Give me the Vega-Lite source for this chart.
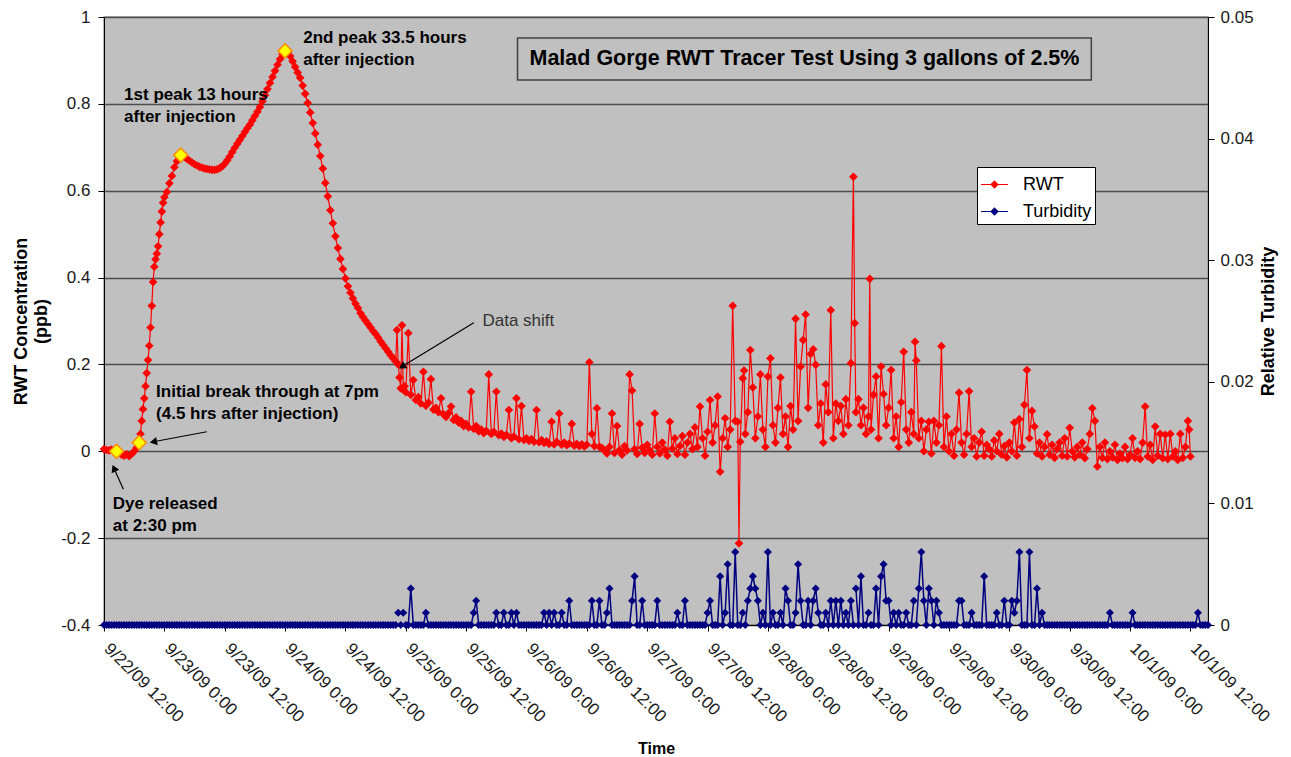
{
"$schema":"https://vega.github.io/schema/vega-lite/v6.json",
"width":1104,"height":608,
"autosize":{"type":"none"},
"padding":{"left":104,"top":17,"right":83,"bottom":132},
"background":"white",
"config":{
 "font":"Liberation Sans",
 "view":{"fill":"#C0C0C0","stroke":"#9a9a9a","strokeWidth":1.5},
 "axis":{"labelFont":"Liberation Sans","titleFont":"Liberation Sans","labelColor":"#1a1a1a","titleColor":"#000","domainColor":"#000","tickColor":"#000","labelFontSize":17,"titleFontSize":17,"titleFontWeight":"bold","tickSize":6}
},
"datasets":{
"m":[
{"t":"2009-09-22T12:00","r":0.005,"u":0},{"t":"2009-09-22T12:30","r":0.003,"u":0},{"t":"2009-09-22T13:00","r":0.002,"u":0},{"t":"2009-09-22T13:30","r":0.004,"u":0},{"t":"2009-09-22T14:00","r":0.001,"u":0},{"t":"2009-09-22T14:30","r":0,"u":0},{"t":"2009-09-22T15:00","r":-0.004,"u":0},{"t":"2009-09-22T15:30","r":-0.008,"u":0},{"t":"2009-09-22T16:00","r":-0.01,"u":0},{"t":"2009-09-22T16:30","r":-0.007,"u":0},{"t":"2009-09-22T17:00","r":-0.011,"u":0},{"t":"2009-09-22T17:30","r":-0.006,"u":0},{"t":"2009-09-22T18:00","r":0,"u":0},{"t":"2009-09-22T18:30","r":0.008,"u":0},{"t":"2009-09-22T19:00","r":0.02,"u":0},{"t":"2009-09-22T19:15","r":0.04},{"t":"2009-09-22T19:30","r":0.07,"u":0},{"t":"2009-09-22T19:45","r":0.097},{"t":"2009-09-22T20:00","r":0.122,"u":0},{"t":"2009-09-22T20:15","r":0.15},{"t":"2009-09-22T20:30","r":0.18,"u":0},{"t":"2009-09-22T20:45","r":0.21},{"t":"2009-09-22T21:00","r":0.243,"u":0},{"t":"2009-09-22T21:15","r":0.285},{"t":"2009-09-22T21:30","r":0.335,"u":0},{"t":"2009-09-22T21:45","r":0.39},{"t":"2009-09-22T22:00","r":0.425,"u":0},{"t":"2009-09-22T22:15","r":0.442},{"t":"2009-09-22T22:30","r":0.455,"u":0},{"t":"2009-09-22T22:45","r":0.472},{"t":"2009-09-22T23:00","r":0.5,"u":0},{"t":"2009-09-22T23:15","r":0.527},{"t":"2009-09-22T23:30","r":0.552,"u":0},{"t":"2009-09-22T23:45","r":0.572},
{"t":"2009-09-23T00:00","r":0.585,"u":0},{"t":"2009-09-23T00:30","r":0.597,"u":0},{"t":"2009-09-23T01:00","r":0.617,"u":0},{"t":"2009-09-23T01:30","r":0.634,"u":0},{"t":"2009-09-23T02:00","r":0.654,"u":0},{"t":"2009-09-23T02:30","r":0.668,"u":0},{"t":"2009-09-23T03:00","r":0.677,"u":0},{"t":"2009-09-23T03:30","r":0.682,"u":0},{"t":"2009-09-23T04:00","r":0.678,"u":0},{"t":"2009-09-23T04:30","r":0.673,"u":0},{"t":"2009-09-23T05:00","r":0.669,"u":0},{"t":"2009-09-23T05:30","r":0.665,"u":0},{"t":"2009-09-23T06:00","r":0.661,"u":0},{"t":"2009-09-23T06:30","r":0.658,"u":0},{"t":"2009-09-23T07:00","r":0.655,"u":0},{"t":"2009-09-23T07:30","r":0.653,"u":0},{"t":"2009-09-23T08:00","r":0.651,"u":0},{"t":"2009-09-23T08:30","r":0.65,"u":0},{"t":"2009-09-23T09:00","r":0.649,"u":0},{"t":"2009-09-23T09:30","r":0.648,"u":0},{"t":"2009-09-23T10:00","r":0.648,"u":0},{"t":"2009-09-23T10:30","r":0.649,"u":0},{"t":"2009-09-23T11:00","r":0.652,"u":0},{"t":"2009-09-23T11:30","r":0.656,"u":0},{"t":"2009-09-23T12:00","r":0.662,"u":0},{"t":"2009-09-23T12:30","r":0.67,"u":0},{"t":"2009-09-23T13:00","r":0.679,"u":0},{"t":"2009-09-23T13:30","r":0.689,"u":0},{"t":"2009-09-23T14:00","r":0.699,"u":0},{"t":"2009-09-23T14:30","r":0.708,"u":0},{"t":"2009-09-23T15:00","r":0.717,"u":0},{"t":"2009-09-23T15:30","r":0.726,"u":0},{"t":"2009-09-23T16:00","r":0.735,"u":0},{"t":"2009-09-23T16:30","r":0.744,"u":0},{"t":"2009-09-23T17:00","r":0.752,"u":0},{"t":"2009-09-23T17:30","r":0.762,"u":0},{"t":"2009-09-23T18:00","r":0.772,"u":0},{"t":"2009-09-23T18:30","r":0.782,"u":0},{"t":"2009-09-23T19:00","r":0.793,"u":0},{"t":"2009-09-23T19:30","r":0.806,"u":0},{"t":"2009-09-23T20:00","r":0.82,"u":0},{"t":"2009-09-23T20:30","r":0.834,"u":0},{"t":"2009-09-23T21:00","r":0.848,"u":0},{"t":"2009-09-23T21:30","r":0.862,"u":0},{"t":"2009-09-23T22:00","r":0.876,"u":0},{"t":"2009-09-23T22:30","r":0.89,"u":0},{"t":"2009-09-23T23:00","r":0.903,"u":0},{"t":"2009-09-23T23:30","r":0.914,"u":0},
{"t":"2009-09-24T00:00","r":0.922,"u":0},{"t":"2009-09-24T00:30","r":0.919,"u":0},{"t":"2009-09-24T01:00","r":0.91,"u":0},{"t":"2009-09-24T01:30","r":0.898,"u":0},{"t":"2009-09-24T02:00","r":0.885,"u":0},{"t":"2009-09-24T02:30","r":0.872,"u":0},{"t":"2009-09-24T03:00","r":0.86,"u":0},{"t":"2009-09-24T03:30","r":0.842,"u":0},{"t":"2009-09-24T04:00","r":0.823,"u":0},{"t":"2009-09-24T04:30","r":0.802,"u":0},{"t":"2009-09-24T05:00","r":0.78,"u":0},{"t":"2009-09-24T05:30","r":0.756,"u":0},{"t":"2009-09-24T06:00","r":0.732,"u":0},{"t":"2009-09-24T06:30","r":0.706,"u":0},{"t":"2009-09-24T07:00","r":0.68,"u":0},{"t":"2009-09-24T07:30","r":0.651,"u":0},{"t":"2009-09-24T08:00","r":0.618,"u":0},{"t":"2009-09-24T08:30","r":0.587,"u":0},{"t":"2009-09-24T09:00","r":0.555,"u":0},{"t":"2009-09-24T09:30","r":0.525,"u":0},{"t":"2009-09-24T10:00","r":0.495,"u":0},{"t":"2009-09-24T10:30","r":0.468,"u":0},{"t":"2009-09-24T11:00","r":0.443,"u":0},{"t":"2009-09-24T11:30","r":0.42,"u":0},{"t":"2009-09-24T12:00","r":0.398,"u":0},{"t":"2009-09-24T12:30","r":0.38,"u":0},{"t":"2009-09-24T13:00","r":0.365,"u":0},{"t":"2009-09-24T13:30","r":0.352,"u":0},{"t":"2009-09-24T14:00","r":0.34,"u":0},{"t":"2009-09-24T14:30","r":0.33,"u":0},{"t":"2009-09-24T15:00","r":0.318,"u":0},{"t":"2009-09-24T15:30","r":0.309,"u":0},{"t":"2009-09-24T16:00","r":0.301,"u":0},{"t":"2009-09-24T16:30","r":0.293,"u":0},{"t":"2009-09-24T17:00","r":0.285,"u":0},{"t":"2009-09-24T17:30","r":0.277,"u":0},{"t":"2009-09-24T18:00","r":0.27,"u":0},{"t":"2009-09-24T18:30","r":0.262,"u":0},{"t":"2009-09-24T19:00","r":0.253,"u":0},{"t":"2009-09-24T19:30","r":0.245,"u":0},{"t":"2009-09-24T20:00","r":0.237,"u":0},{"t":"2009-09-24T20:30","r":0.229,"u":0},{"t":"2009-09-24T21:00","r":0.221,"u":0},{"t":"2009-09-24T21:30","r":0.214,"u":0},{"t":"2009-09-24T22:00","r":0.207,"u":0},{"t":"2009-09-24T22:15","r":0.279},{"t":"2009-09-24T22:30","r":0.2,"u":0.001},{"t":"2009-09-24T22:45","r":0.17},{"t":"2009-09-24T23:00","r":0.145,"u":0},{"t":"2009-09-24T23:15","r":0.29},{"t":"2009-09-24T23:30","r":0.142,"u":0.001},{"t":"2009-09-24T23:45","r":0.15},
{"t":"2009-09-25T00:00","r":0.136,"u":0},{"t":"2009-09-25T00:30","r":0.272,"u":0},{"t":"2009-09-25T01:00","r":0.13,"u":0.003},{"t":"2009-09-25T01:30","r":0.164,"u":0},{"t":"2009-09-25T02:00","r":0.118,"u":0},{"t":"2009-09-25T02:30","r":0.125,"u":0},{"t":"2009-09-25T03:00","r":0.11,"u":0},{"t":"2009-09-25T03:30","r":0.183,"u":0},{"t":"2009-09-25T04:00","r":0.105,"u":0.001},{"t":"2009-09-25T04:30","r":0.112,"u":0},{"t":"2009-09-25T05:00","r":0.166,"u":0},{"t":"2009-09-25T05:30","r":0.096,"u":0},{"t":"2009-09-25T06:00","r":0.1,"u":0},{"t":"2009-09-25T06:30","r":0.09,"u":0},{"t":"2009-09-25T07:00","r":0.122,"u":0},{"t":"2009-09-25T07:30","r":0.085,"u":0},{"t":"2009-09-25T08:00","r":0.079,"u":0},{"t":"2009-09-25T08:30","r":0.088,"u":0},{"t":"2009-09-25T09:00","r":0.103,"u":0},{"t":"2009-09-25T09:30","r":0.072,"u":0},{"t":"2009-09-25T10:00","r":0.078,"u":0},{"t":"2009-09-25T10:30","r":0.066,"u":0},{"t":"2009-09-25T11:00","r":0.07,"u":0},{"t":"2009-09-25T11:30","r":0.058,"u":0},{"t":"2009-09-25T12:00","r":0.063,"u":0},{"t":"2009-09-25T12:30","r":0.055,"u":0},{"t":"2009-09-25T13:00","r":0.137,"u":0},{"t":"2009-09-25T13:30","r":0.052,"u":0.001},{"t":"2009-09-25T14:00","r":0.058,"u":0.002},{"t":"2009-09-25T14:30","r":0.046,"u":0},{"t":"2009-09-25T15:00","r":0.05,"u":0},{"t":"2009-09-25T15:30","r":0.042,"u":0},{"t":"2009-09-25T16:00","r":0.047,"u":0},{"t":"2009-09-25T16:30","r":0.177,"u":0},{"t":"2009-09-25T17:00","r":0.04,"u":0},{"t":"2009-09-25T17:30","r":0.045,"u":0},{"t":"2009-09-25T18:00","r":0.137,"u":0.001},{"t":"2009-09-25T18:30","r":0.037,"u":0},{"t":"2009-09-25T19:00","r":0.041,"u":0},{"t":"2009-09-25T19:30","r":0.033,"u":0.001},{"t":"2009-09-25T20:00","r":0.038,"u":0},{"t":"2009-09-25T20:30","r":0.095,"u":0},{"t":"2009-09-25T21:00","r":0.03,"u":0.001},{"t":"2009-09-25T21:30","r":0.034,"u":0},{"t":"2009-09-25T22:00","r":0.122,"u":0.001},{"t":"2009-09-25T22:30","r":0.028,"u":0},{"t":"2009-09-25T23:00","r":0.104,"u":0},{"t":"2009-09-25T23:30","r":0.026,"u":0},
{"t":"2009-09-26T00:00","r":0.03,"u":0},{"t":"2009-09-26T00:30","r":0.024,"u":0},{"t":"2009-09-26T01:00","r":0.028,"u":0},{"t":"2009-09-26T01:30","r":0.022,"u":0},{"t":"2009-09-26T02:00","r":0.095,"u":0},{"t":"2009-09-26T02:30","r":0.021,"u":0},{"t":"2009-09-26T03:00","r":0.026,"u":0},{"t":"2009-09-26T03:30","r":0.019,"u":0.001},{"t":"2009-09-26T04:00","r":0.023,"u":0},{"t":"2009-09-26T04:30","r":0.017,"u":0.001},{"t":"2009-09-26T05:00","r":0.068,"u":0},{"t":"2009-09-26T05:30","r":0.016,"u":0.001},{"t":"2009-09-26T06:00","r":0.022,"u":0},{"t":"2009-09-26T06:30","r":0.087,"u":0},{"t":"2009-09-26T07:00","r":0.015,"u":0.001},{"t":"2009-09-26T07:30","r":0.02,"u":0},{"t":"2009-09-26T08:00","r":0.014,"u":0},{"t":"2009-09-26T08:30","r":0.018,"u":0.002},{"t":"2009-09-26T09:00","r":0.063,"u":0},{"t":"2009-09-26T09:30","r":0.013,"u":0},{"t":"2009-09-26T10:00","r":0.017,"u":0},{"t":"2009-09-26T10:30","r":0.012,"u":0},{"t":"2009-09-26T11:00","r":0.016,"u":0},{"t":"2009-09-26T11:30","r":0.011,"u":0},{"t":"2009-09-26T12:00","r":0.015,"u":0},{"t":"2009-09-26T12:30","r":0.205,"u":0},{"t":"2009-09-26T13:00","r":0.04,"u":0.002},{"t":"2009-09-26T13:30","r":0.012,"u":0},{"t":"2009-09-26T14:00","r":0.099,"u":0},{"t":"2009-09-26T14:30","r":0.01,"u":0.002},{"t":"2009-09-26T15:00","r":0.008,"u":0},{"t":"2009-09-26T15:30","r":0.002,"u":0},{"t":"2009-09-26T16:00","r":-0.005,"u":0.001},{"t":"2009-09-26T16:30","r":0.01,"u":0.003},{"t":"2009-09-26T17:00","r":0.087,"u":0},{"t":"2009-09-26T17:30","r":-0.004,"u":0},{"t":"2009-09-26T18:00","r":0.058,"u":0},{"t":"2009-09-26T18:30","r":0.003,"u":0},{"t":"2009-09-26T19:00","r":-0.008,"u":0},{"t":"2009-09-26T19:30","r":0.012,"u":0},{"t":"2009-09-26T20:00","r":0.002,"u":0},{"t":"2009-09-26T20:30","r":0.177,"u":0},{"t":"2009-09-26T21:00","r":0.14,"u":0.002},{"t":"2009-09-26T21:30","r":0.005,"u":0.004},{"t":"2009-09-26T22:00","r":-0.006,"u":0},{"t":"2009-09-26T22:30","r":0.063,"u":0},{"t":"2009-09-26T23:00","r":0.008,"u":0.002},{"t":"2009-09-26T23:30","r":-0.004,"u":0},
{"t":"2009-09-27T00:00","r":0.015,"u":0},{"t":"2009-09-27T00:30","r":0.002,"u":0},{"t":"2009-09-27T01:00","r":-0.008,"u":0},{"t":"2009-09-27T01:30","r":0.087,"u":0},{"t":"2009-09-27T02:00","r":0.01,"u":0.002},{"t":"2009-09-27T02:30","r":-0.005,"u":0},{"t":"2009-09-27T03:00","r":0.02,"u":0},{"t":"2009-09-27T03:30","r":0.004,"u":0},{"t":"2009-09-27T04:00","r":-0.01,"u":0},{"t":"2009-09-27T04:30","r":0.068,"u":0},{"t":"2009-09-27T05:00","r":0.006,"u":0},{"t":"2009-09-27T05:30","r":0.03,"u":0},{"t":"2009-09-27T06:00","r":-0.006,"u":0.001},{"t":"2009-09-27T06:30","r":0.012,"u":0},{"t":"2009-09-27T07:00","r":0.035,"u":0},{"t":"2009-09-27T07:30","r":-0.008,"u":0.002},{"t":"2009-09-27T08:00","r":0.02,"u":0},{"t":"2009-09-27T08:30","r":0.04,"u":0},{"t":"2009-09-27T09:00","r":0.005,"u":0},{"t":"2009-09-27T09:30","r":0.055,"u":0},{"t":"2009-09-27T10:00","r":0.01,"u":0},{"t":"2009-09-27T10:30","r":0.103,"u":0},{"t":"2009-09-27T11:00","r":0.03,"u":0},{"t":"2009-09-27T11:30","r":-0.01,"u":0},{"t":"2009-09-27T12:00","r":0.045,"u":0.001},{"t":"2009-09-27T12:30","r":0.118,"u":0.002},{"t":"2009-09-27T13:00","r":0.02,"u":0},{"t":"2009-09-27T13:30","r":0.06,"u":0},{"t":"2009-09-27T14:00","r":0.126,"u":0},{"t":"2009-09-27T14:30","r":-0.047,"u":0.004},{"t":"2009-09-27T15:00","r":0.03,"u":0},{"t":"2009-09-27T15:30","r":0.076,"u":0.001},{"t":"2009-09-27T16:00","r":0.01,"u":0.005},{"t":"2009-09-27T16:30","r":0.05,"u":0},{"t":"2009-09-27T17:00","r":0.335,"u":0},{"t":"2009-09-27T17:30","r":0.07,"u":0.006},{"t":"2009-09-27T18:00","r":0.068,"u":0},{"t":"2009-09-27T18:15","r":-0.212},{"t":"2009-09-27T18:30","r":0.022,"u":0},{"t":"2009-09-27T19:00","r":0.168,"u":0.001},{"t":"2009-09-27T19:15","r":0.186},{"t":"2009-09-27T19:30","r":0.04,"u":0},{"t":"2009-09-27T20:00","r":0.09,"u":0.002},{"t":"2009-09-27T20:30","r":0.233,"u":0.003},{"t":"2009-09-27T21:00","r":0.147,"u":0.004},{"t":"2009-09-27T21:30","r":0.03,"u":0.003},{"t":"2009-09-27T22:00","r":0.08,"u":0.002},{"t":"2009-09-27T22:30","r":0.177,"u":0},{"t":"2009-09-27T23:00","r":0.05,"u":0.001},{"t":"2009-09-27T23:30","r":0.01,"u":0},
{"t":"2009-09-28T00:00","r":0.172,"u":0.006},{"t":"2009-09-28T00:30","r":0.214,"u":0},{"t":"2009-09-28T01:00","r":0.06,"u":0.001},{"t":"2009-09-28T01:30","r":0.02,"u":0},{"t":"2009-09-28T02:00","r":0.1,"u":0},{"t":"2009-09-28T02:30","r":0.17,"u":0.001},{"t":"2009-09-28T03:00","r":0.04,"u":0},{"t":"2009-09-28T03:30","r":0.08,"u":0.003},{"t":"2009-09-28T04:00","r":0.01,"u":0.002},{"t":"2009-09-28T04:30","r":0.104,"u":0},{"t":"2009-09-28T05:00","r":0.05,"u":0},{"t":"2009-09-28T05:30","r":0.305,"u":0.001},{"t":"2009-09-28T06:00","r":0.07,"u":0.005},{"t":"2009-09-28T06:30","r":0.195,"u":0.002},{"t":"2009-09-28T07:00","r":0.256,"u":0},{"t":"2009-09-28T07:30","r":0.315,"u":0},{"t":"2009-09-28T08:00","r":0.1,"u":0.002},{"t":"2009-09-28T08:30","r":0.224,"u":0},{"t":"2009-09-28T09:00","r":0.235,"u":0.002},{"t":"2009-09-28T09:30","r":0.199,"u":0.003},{"t":"2009-09-28T10:00","r":0.06,"u":0.001},{"t":"2009-09-28T10:30","r":0.11,"u":0},{"t":"2009-09-28T11:00","r":0.02,"u":0},{"t":"2009-09-28T11:30","r":0.154,"u":0.001},{"t":"2009-09-28T12:00","r":0.09,"u":0},{"t":"2009-09-28T12:30","r":0.325,"u":0.002},{"t":"2009-09-28T13:00","r":0.03,"u":0},{"t":"2009-09-28T13:30","r":0.11,"u":0.002},{"t":"2009-09-28T14:00","r":0.07,"u":0},{"t":"2009-09-28T14:30","r":0.104,"u":0.002},{"t":"2009-09-28T15:00","r":0.04,"u":0},{"t":"2009-09-28T15:30","r":0.12,"u":0.001},{"t":"2009-09-28T16:00","r":0.06,"u":0},{"t":"2009-09-28T16:30","r":0.203,"u":0.002},{"t":"2009-09-28T17:00","r":0.632,"u":0},{"t":"2009-09-28T17:15","r":0.295},{"t":"2009-09-28T17:30","r":0.09,"u":0.003},{"t":"2009-09-28T18:00","r":0.12,"u":0},{"t":"2009-09-28T18:30","r":0.06,"u":0.004},{"t":"2009-09-28T19:00","r":0.1,"u":0},{"t":"2009-09-28T19:30","r":0.04,"u":0},{"t":"2009-09-28T20:00","r":0.08,"u":0.001},{"t":"2009-09-28T20:15","r":0.397},{"t":"2009-09-28T20:30","r":0.05,"u":0},{"t":"2009-09-28T21:00","r":0.13,"u":0},{"t":"2009-09-28T21:30","r":0.172,"u":0.003},{"t":"2009-09-28T22:00","r":0.03,"u":0},{"t":"2009-09-28T22:30","r":0.195,"u":0.004},{"t":"2009-09-28T23:00","r":0.132,"u":0.005},{"t":"2009-09-28T23:30","r":0.06,"u":0.002},
{"t":"2009-09-29T00:00","r":0.1,"u":0.002},{"t":"2009-09-29T00:30","r":0.187,"u":0},{"t":"2009-09-29T01:00","r":0.03,"u":0.001},{"t":"2009-09-29T01:30","r":0.08,"u":0},{"t":"2009-09-29T02:00","r":0.01,"u":0.001},{"t":"2009-09-29T02:30","r":0.113,"u":0},{"t":"2009-09-29T03:00","r":0.229,"u":0},{"t":"2009-09-29T03:30","r":0.05,"u":0.001},{"t":"2009-09-29T04:00","r":0.02,"u":0},{"t":"2009-09-29T04:30","r":0.09,"u":0},{"t":"2009-09-29T05:00","r":0.04,"u":0.002},{"t":"2009-09-29T05:15","r":0.252},{"t":"2009-09-29T05:30","r":0.209,"u":0},{"t":"2009-09-29T06:00","r":0.03,"u":0.003},{"t":"2009-09-29T06:30","r":0.07,"u":0.006},{"t":"2009-09-29T07:00","r":0,"u":0.002},{"t":"2009-09-29T07:30","r":0.05,"u":0},{"t":"2009-09-29T08:00","r":0.068,"u":0.003},{"t":"2009-09-29T08:30","r":-0.005,"u":0.002},{"t":"2009-09-29T09:00","r":0.07,"u":0},{"t":"2009-09-29T09:30","r":0.02,"u":0.002},{"t":"2009-09-29T10:00","r":0.06,"u":0.001},{"t":"2009-09-29T10:30","r":0.242,"u":0},{"t":"2009-09-29T11:00","r":0.01,"u":0},{"t":"2009-09-29T11:30","r":0.08,"u":0},{"t":"2009-09-29T12:00","r":0,"u":0},{"t":"2009-09-29T12:30","r":0.04,"u":0},{"t":"2009-09-29T13:00","r":-0.01,"u":0},{"t":"2009-09-29T13:30","r":0.05,"u":0},{"t":"2009-09-29T14:00","r":0.135,"u":0.002},{"t":"2009-09-29T14:30","r":0.02,"u":0.002},{"t":"2009-09-29T15:00","r":-0.008,"u":0},{"t":"2009-09-29T15:30","r":0.04,"u":0},{"t":"2009-09-29T16:00","r":0.138,"u":0},{"t":"2009-09-29T16:30","r":0.01,"u":0.001},{"t":"2009-09-29T17:00","r":0.03,"u":0},{"t":"2009-09-29T17:30","r":-0.012,"u":0},{"t":"2009-09-29T18:00","r":0.02,"u":0},{"t":"2009-09-29T18:30","r":0.045,"u":0},{"t":"2009-09-29T19:00","r":-0.01,"u":0.004},{"t":"2009-09-29T19:30","r":0.015,"u":0},{"t":"2009-09-29T20:00","r":0.005,"u":0},{"t":"2009-09-29T20:30","r":-0.012,"u":0},{"t":"2009-09-29T21:00","r":0.025,"u":0},{"t":"2009-09-29T21:30","r":0,"u":0.001},{"t":"2009-09-29T22:00","r":0.04,"u":0},{"t":"2009-09-29T22:30","r":-0.008,"u":0},{"t":"2009-09-29T23:00","r":0.012,"u":0.002},{"t":"2009-09-29T23:30","r":-0.014,"u":0},
{"t":"2009-09-30T00:00","r":0.02,"u":0},{"t":"2009-09-30T00:30","r":0,"u":0.002},{"t":"2009-09-30T01:00","r":0.066,"u":0.001},{"t":"2009-09-30T01:30","r":-0.01,"u":0.002},{"t":"2009-09-30T02:00","r":0.074,"u":0.006},{"t":"2009-09-30T02:30","r":0.01,"u":0},{"t":"2009-09-30T03:00","r":0.107,"u":0},{"t":"2009-09-30T03:30","r":0.187,"u":0},{"t":"2009-09-30T04:00","r":0.03,"u":0.006},{"t":"2009-09-30T04:30","r":0.093,"u":0},{"t":"2009-09-30T05:00","r":0.057,"u":0},{"t":"2009-09-30T05:30","r":-0.005,"u":0.003},{"t":"2009-09-30T06:00","r":0.02,"u":0},{"t":"2009-09-30T06:30","r":-0.012,"u":0.001},{"t":"2009-09-30T07:00","r":0.01,"u":0},{"t":"2009-09-30T07:30","r":0.039,"u":0},{"t":"2009-09-30T08:00","r":-0.008,"u":0},{"t":"2009-09-30T08:30","r":0.015,"u":0},{"t":"2009-09-30T09:00","r":-0.015,"u":0},{"t":"2009-09-30T09:30","r":0.005,"u":0},{"t":"2009-09-30T10:00","r":0.02,"u":0},{"t":"2009-09-30T10:30","r":-0.01,"u":0},{"t":"2009-09-30T11:00","r":0.03,"u":0},{"t":"2009-09-30T11:30","r":-0.012,"u":0},{"t":"2009-09-30T12:00","r":0.054,"u":0},{"t":"2009-09-30T12:30","r":0,"u":0},{"t":"2009-09-30T13:00","r":-0.014,"u":0},{"t":"2009-09-30T13:30","r":0.01,"u":0},{"t":"2009-09-30T14:00","r":-0.008,"u":0},{"t":"2009-09-30T14:30","r":0.02,"u":0},{"t":"2009-09-30T15:00","r":-0.016,"u":0},{"t":"2009-09-30T15:30","r":0.005,"u":0},{"t":"2009-09-30T16:00","r":0.04,"u":0},{"t":"2009-09-30T16:30","r":0.099,"u":0},{"t":"2009-09-30T17:00","r":0.07,"u":0},{"t":"2009-09-30T17:30","r":-0.035,"u":0},{"t":"2009-09-30T18:00","r":0.01,"u":0},{"t":"2009-09-30T18:30","r":-0.015,"u":0},{"t":"2009-09-30T19:00","r":0.02,"u":0},{"t":"2009-09-30T19:30","r":-0.018,"u":0},{"t":"2009-09-30T20:00","r":0,"u":0.001},{"t":"2009-09-30T20:30","r":-0.014,"u":0},{"t":"2009-09-30T21:00","r":0.015,"u":0},{"t":"2009-09-30T21:30","r":-0.02,"u":0},{"t":"2009-09-30T22:00","r":-0.005,"u":0},{"t":"2009-09-30T22:30","r":-0.016,"u":0},{"t":"2009-09-30T23:00","r":0.01,"u":0},{"t":"2009-09-30T23:30","r":-0.018,"u":0},
{"t":"2009-10-01T00:00","r":-0.008,"u":0},{"t":"2009-10-01T00:30","r":0.03,"u":0.001},{"t":"2009-10-01T01:00","r":-0.015,"u":0},{"t":"2009-10-01T01:30","r":0,"u":0},{"t":"2009-10-01T02:00","r":-0.018,"u":0},{"t":"2009-10-01T02:30","r":0.02,"u":0},{"t":"2009-10-01T03:00","r":0.103,"u":0},{"t":"2009-10-01T03:30","r":-0.012,"u":0},{"t":"2009-10-01T04:00","r":0.015,"u":0},{"t":"2009-10-01T04:30","r":-0.02,"u":0},{"t":"2009-10-01T05:00","r":0.057,"u":0},{"t":"2009-10-01T05:30","r":-0.01,"u":0},{"t":"2009-10-01T06:00","r":0.04,"u":0},{"t":"2009-10-01T06:30","r":-0.016,"u":0},{"t":"2009-10-01T07:00","r":0.038,"u":0},{"t":"2009-10-01T07:30","r":-0.018,"u":0},{"t":"2009-10-01T08:00","r":0.04,"u":0},{"t":"2009-10-01T08:30","r":-0.012,"u":0},{"t":"2009-10-01T09:00","r":0,"u":0},{"t":"2009-10-01T09:30","r":-0.02,"u":0},{"t":"2009-10-01T10:00","r":0.04,"u":0},{"t":"2009-10-01T10:30","r":-0.015,"u":0},{"t":"2009-10-01T11:00","r":0.01,"u":0},{"t":"2009-10-01T11:30","r":0.07,"u":0},{"t":"2009-10-01T11:45","r":0.05},{"t":"2009-10-01T12:00","r":-0.012,"u":0},{"t":"2009-10-01T12:30","u":0},{"t":"2009-10-01T13:00","u":0},{"t":"2009-10-01T13:30","u":0.001},{"t":"2009-10-01T14:00","u":0},{"t":"2009-10-01T14:30","u":0},{"t":"2009-10-01T15:00","u":0},{"t":"2009-10-01T15:30","u":0}
],
"hl":[{"t":"2009-09-22T14:30","r":0},{"t":"2009-09-22T19:00","r":0.02},{"t":"2009-09-23T03:15","r":0.682},{"t":"2009-09-24T00:00","r":0.922}],
"notes":[
{"t":"2009-09-22T16:00","r":0.839,"txt":"1st peak 13 hours"},
{"t":"2009-09-22T16:00","r":0.788,"txt":"after injection"},
{"t":"2009-09-24T03:36","r":0.971,"txt":"2nd peak 33.5 hours"},
{"t":"2009-09-24T03:36","r":0.920,"txt":"after injection"},
{"t":"2009-09-22T22:21","r":0.155,"txt":"Initial break through at 7pm"},
{"t":"2009-09-22T22:21","r":0.104,"txt":"(4.5 hrs after injection)"},
{"t":"2009-09-22T13:45","r":-0.103,"txt":"Dye released"},
{"t":"2009-09-22T13:45","r":-0.154,"txt":"at 2:30 pm"}
],
"arr":[
{"id":"shift","t":"2009-09-25T13:31","r":0.296,"t2":"2009-09-24T23:16","r2":0.195},
{"id":"break","t":"2009-09-23T08:27","r":0.045,"t2":"2009-09-22T21:49","r2":0.022},
{"id":"dye","t":"2009-09-22T15:51","r":-0.0875,"t2":"2009-09-22T13:59","r2":-0.039}
]
},
"layer":[
 {"data":{"values":[{"t":"2009-09-25T22:13","t2":"2009-09-30T16:18","r":0.9517,"r2":0.855}]},
  "mark":{"type":"rect","fill":"#C0C0C0","stroke":"#404040","strokeWidth":1.5},
  "encoding":{"x":{"field":"t","type":"temporal","title":"Time","scale":{"nice":false}},"x2":{"field":"t2"},"y":{"field":"r","type":"quantitative","scale":{"domain":[-0.4,1],"nice":false,"zero":false},"axis":null},"y2":{"field":"r2"}}},
 {"data":{"name":"m"},
  "mark":{"type":"line","strokeWidth":1.2,"point":{"shape":"diamond","filled":true,"size":75}},
  "encoding":{
   "x":{"field":"t","type":"temporal","title":"Time","scale":{"nice":false},
    "axis":{"format":"%-m/%-d/%y %-H:%M","tickCount":18,"labelAngle":45,"labelAlign":"left","labelBaseline":"top","labelPadding":9,"labelOffset":8,"labelOverlap":false,"labelFlush":false,"grid":false,"labelFontSize":17,"titleFontSize":16,"titlePadding":16,"tickSize":6}},
   "y":{"field":"r","type":"quantitative","title":["RWT Concentration","(ppb)"],"scale":{"domain":[-0.4,1],"nice":false,"zero":false},
    "axis":{"orient":"left","values":[-0.4,-0.2,0,0.2,0.4,0.6,0.8,1],"labelExpr":"''+datum.value","grid":true,"gridColor":"#4d4d4d","gridWidth":1.5,"labelFontSize":17,"labelPadding":8,"tickSize":6,"titleFontSize":18,"titlePadding":10}},
   "color":{"datum":"RWT","type":"nominal","scale":{"domain":["RWT","Turbidity"],"range":["#FF0000","#000080"]},
    "legend":{"orient":"none","legendX":873,"legendY":150,"title":null,"strokeColor":"#000","fillColor":"#fff","padding":3,"labelFontSize":18,"labelColor":"#000","labelOffset":14,"rowPadding":3,"symbolType":"M-1,0H1M0,-0.25L0.25,0L0,0.25L-0.25,0Z","symbolSize":729,"symbolStrokeWidth":1.2}}
  }},
 {"data":{"name":"m"},
  "mark":{"type":"line","strokeWidth":1.5,"point":{"shape":"diamond","filled":true,"size":65}},
  "encoding":{
   "x":{"field":"t","type":"temporal","title":"Time","scale":{"nice":false}},
   "y":{"field":"u","type":"quantitative","title":"Relative Turbidity","scale":{"domain":[0,0.05],"nice":false,"zero":true},
    "axis":{"orient":"right","titleAngle":270,"titleBaseline":"top","values":[0,0.01,0.02,0.03,0.04,0.05],"labelExpr":"''+datum.value","grid":false,"labelFontSize":17,"labelPadding":6,"tickSize":6,"titleFontSize":18,"titlePadding":6}},
   "color":{"datum":"Turbidity","type":"nominal"}
  }},
 {"data":{"values":[{"t":"2009-09-28T07:16","r":0.903,"txt":"Malad Gorge RWT Tracer Test Using 3 gallons of 2.5%"}]},
  "mark":{"type":"text","fontSize":21.5,"fontWeight":"bold","color":"#000","align":"center","baseline":"middle"},
  "encoding":{"x":{"field":"t","type":"temporal","title":"Time"},"y":{"field":"r","type":"quantitative","scale":{"domain":[-0.4,1],"nice":false,"zero":false},"axis":null},"text":{"field":"txt","type":"nominal"}}},
 {"data":{"name":"hl"},
  "mark":{"type":"point","shape":"diamond","filled":true,"fill":"#FFFF00","stroke":"#FF8C00","strokeWidth":1.5,"size":200,"opacity":1},
  "encoding":{"x":{"field":"t","type":"temporal","title":"Time"},"y":{"field":"r","type":"quantitative","scale":{"domain":[-0.4,1],"nice":false,"zero":false},"axis":null}}},
 {"data":{"name":"arr"},
  "mark":{"type":"rule","color":"#000","strokeWidth":1.2},
  "encoding":{"x":{"field":"t","type":"temporal","title":"Time"},"x2":{"field":"t2"},"y":{"field":"r","type":"quantitative","scale":{"domain":[-0.4,1],"nice":false,"zero":false},"axis":null},"y2":{"field":"r2"}}},
 {"data":{"name":"arr"},"transform":[{"filter":"datum.id==='shift'"}],
  "mark":{"type":"point","shape":"triangle-up","filled":true,"color":"#000","size":70,"angle":238,"opacity":1},
  "encoding":{"x":{"field":"t2","type":"temporal","title":"Time"},"y":{"field":"r2","type":"quantitative","scale":{"domain":[-0.4,1],"nice":false,"zero":false},"axis":null}}},
 {"data":{"name":"arr"},"transform":[{"filter":"datum.id==='break'"}],
  "mark":{"type":"point","shape":"triangle-up","filled":true,"color":"#000","size":70,"angle":259,"opacity":1},
  "encoding":{"x":{"field":"t2","type":"temporal","title":"Time"},"y":{"field":"r2","type":"quantitative","scale":{"domain":[-0.4,1],"nice":false,"zero":false},"axis":null}}},
 {"data":{"name":"arr"},"transform":[{"filter":"datum.id==='dye'"}],
  "mark":{"type":"point","shape":"triangle-up","filled":true,"color":"#000","size":70,"angle":336,"opacity":1},
  "encoding":{"x":{"field":"t2","type":"temporal","title":"Time"},"y":{"field":"r2","type":"quantitative","scale":{"domain":[-0.4,1],"nice":false,"zero":false},"axis":null}}},
 {"data":{"name":"notes"},
  "mark":{"type":"text","fontSize":17,"fontWeight":"bold","color":"#000","align":"left","baseline":"top"},
  "encoding":{"x":{"field":"t","type":"temporal","title":"Time"},"y":{"field":"r","type":"quantitative","scale":{"domain":[-0.4,1],"nice":false,"zero":false},"axis":null},"text":{"field":"txt","type":"nominal"}}},
 {"data":{"values":[{"t":"2009-09-25T15:15","r":0.3,"txt":"Data shift"}]},
  "mark":{"type":"text","fontSize":17,"color":"#333","align":"left","baseline":"middle"},
  "encoding":{"x":{"field":"t","type":"temporal","title":"Time"},"y":{"field":"r","type":"quantitative","scale":{"domain":[-0.4,1],"nice":false,"zero":false},"axis":null},"text":{"field":"txt","type":"nominal"}}}
],
"resolve":{"scale":{"y":"independent"}}
}
